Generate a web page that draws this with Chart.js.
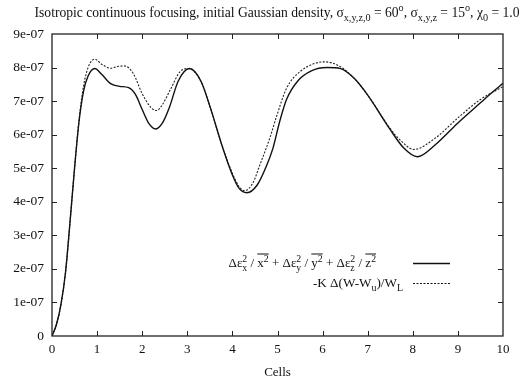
<!DOCTYPE html>
<html>
<head>
<meta charset="utf-8">
<script src="https://cdn.jsdelivr.net/npm/chart.js@4/dist/chart.umd.min.js"></script>
<style>
html,body{margin:0;padding:0;background:#fff;}
canvas{display:block;}
</style>
</head>
<body>
<canvas id="c" width="528" height="382"></canvas>
<script>
// ---- data ----
const solidX = [0,0.1,0.2,0.3,0.4,0.5,0.6,0.7,0.8,0.95,1.1,1.3,1.5,1.7,1.85,2.0,2.15,2.3,2.45,2.6,2.8,3.05,3.3,3.5,3.8,4.0,4.15,4.32,4.55,4.75,4.9,5.05,5.2,5.45,5.75,6.1,6.4,6.7,7.0,7.5,7.8,8.1,8.5,9.0,9.5,9.75,10];
const solidY = [0,0.35e-7,0.95e-7,1.9e-7,3.4e-7,5.0e-7,6.4e-7,7.3e-7,7.75e-7,7.97e-7,7.8e-7,7.52e-7,7.44e-7,7.4e-7,7.2e-7,6.75e-7,6.33e-7,6.17e-7,6.35e-7,6.8e-7,7.6e-7,7.97e-7,7.6e-7,6.85e-7,5.55e-7,4.8e-7,4.4e-7,4.27e-7,4.5e-7,5.05e-7,5.6e-7,6.4e-7,7.05e-7,7.6e-7,7.9e-7,8.0e-7,7.97e-7,7.68e-7,7.18e-7,6.15e-7,5.6e-7,5.34e-7,5.7e-7,6.35e-7,6.95e-7,7.25e-7,7.53e-7];
const dashedX = [0,0.1,0.2,0.3,0.4,0.5,0.6,0.7,0.8,0.95,1.1,1.3,1.45,1.6,1.8,2.0,2.2,2.32,2.45,2.62,2.84,3.02,3.3,3.5,3.8,4.0,4.15,4.27,4.45,4.61,4.83,4.98,5.2,5.5,6.05,6.4,6.7,7.0,7.5,7.75,8.02,8.5,9.0,9.5,9.75,10];
const dashedY = [0,0.35e-7,0.95e-7,1.9e-7,3.4e-7,5.0e-7,6.45e-7,7.45e-7,8.0e-7,8.25e-7,8.1e-7,7.98e-7,8.03e-7,8.05e-7,7.83e-7,7.22e-7,6.8e-7,6.72e-7,6.9e-7,7.33e-7,7.88e-7,7.97e-7,7.6e-7,6.85e-7,5.55e-7,4.85e-7,4.45e-7,4.33e-7,4.55e-7,5.1e-7,5.9e-7,6.55e-7,7.38e-7,7.88e-7,8.17e-7,8.02e-7,7.68e-7,7.18e-7,6.18e-7,5.8e-7,5.56e-7,5.9e-7,6.5e-7,7.05e-7,7.25e-7,7.43e-7];
const xTickLabels = ['0','1','2','3','4','5','6','7','8','9','10'];
const yTickLabels = ['0','1e-07','2e-07','3e-07','4e-07','5e-07','6e-07','7e-07','8e-07','9e-07'];

const SERIF = '"Liberation Serif", "DejaVu Serif", serif';

// rich text: parts {t, sub, sup, over}
function measureRich(ctx, parts, size){
  let w = 0;
  for (const p of parts){
    ctx.font = size + 'px ' + SERIF;
    w += ctx.measureText(p.t).width;
    ctx.font = (size*0.75) + 'px ' + SERIF;
    const sw = Math.max(p.sub ? ctx.measureText(p.sub).width : 0, p.sup ? ctx.measureText(p.sup).width : 0);
    w += sw;
  }
  return w;
}
function drawRich(ctx, parts, x, y, size, align){
  const total = measureRich(ctx, parts, size);
  let cx = align === 'right' ? x - total : (align === 'center' ? x - total/2 : x);
  ctx.textBaseline = 'alphabetic';
  ctx.textAlign = 'left';
  for (const p of parts){
    ctx.font = size + 'px ' + SERIF;
    const bw = ctx.measureText(p.t).width;
    ctx.fillText(p.t, cx, y);
    const startX = cx;
    cx += bw;
    ctx.font = (size*0.75) + 'px ' + SERIF;
    let sw = 0;
    if (p.sup){ ctx.fillText(p.sup, cx, y - size*0.42); sw = Math.max(sw, ctx.measureText(p.sup).width); }
    if (p.sub){ ctx.fillText(p.sub, cx, y + size*0.3); sw = Math.max(sw, ctx.measureText(p.sub).width); }
    if (p.over){
      ctx.save(); ctx.lineWidth = 1; ctx.strokeStyle = ctx.fillStyle;
      ctx.beginPath(); ctx.moveTo(startX, y - size*1.0); ctx.lineTo(cx + sw, y - size*1.0); ctx.stroke(); ctx.restore();
    }
    cx += sw;
  }
}

const decor = {
  id: 'decor',
  afterDraw(chart){
    const ctx = chart.ctx;
    const a = chart.chartArea;
    const xs = chart.scales.x, ys = chart.scales.y;
    ctx.save();
    ctx.strokeStyle = '#222';
    ctx.lineWidth = 1.3;
    ctx.strokeRect(a.left, a.top, a.right - a.left, a.bottom - a.top);
    ctx.lineWidth = 1;
    ctx.beginPath();
    for (let i = 1; i < xTickLabels.length - 1; i++){
      const px = Math.round(xs.getPixelForValue(i)) + 0.5;
      ctx.moveTo(px, a.bottom); ctx.lineTo(px, a.bottom - 5);
      ctx.moveTo(px, a.top); ctx.lineTo(px, a.top + 5);
    }
    for (let i = 1; i < yTickLabels.length - 1; i++){
      const py = Math.round(ys.getPixelForValue(i*1e-7)) + 0.5;
      ctx.moveTo(a.left, py); ctx.lineTo(a.left + 5, py);
      ctx.moveTo(a.right, py); ctx.lineTo(a.right - 5, py);
    }
    ctx.stroke();
    // title
    ctx.fillStyle = '#111';
    drawRich(ctx, [
      {t:'Isotropic continuous focusing, initial Gaussian density, σ', sub:'x,y,z,0'},
      {t:' = 60', sup:'o'},
      {t:', σ', sub:'x,y,z'},
      {t:' = 15', sup:'o'},
      {t:', χ', sub:'0'},
      {t:' = 1.0'}
    ], 277, 17, 13.6, 'center');
    // legend
    drawRich(ctx, [
      {t:'Δε', sup:'2', sub:'x'}, {t:' / '}, {t:'x', sup:'2', over:true},
      {t:' + Δε', sup:'2', sub:'y'}, {t:' / '}, {t:'y', sup:'2', over:true},
      {t:' + Δε', sup:'2', sub:'z'}, {t:' / '}, {t:'z', sup:'2', over:true}
    ], 376, 267, 13, 'right');
    drawRich(ctx, [
      {t:'-K Δ(W-W', sub:'u'}, {t:')/W', sub:'L'}
    ], 403, 287, 13.2, 'right');
    ctx.strokeStyle = '#111';
    ctx.lineWidth = 1.3;
    ctx.beginPath(); ctx.moveTo(413, 263.5); ctx.lineTo(450, 263.5); ctx.stroke();
    ctx.lineWidth = 1;
    ctx.setLineDash([2,1.5]);
    ctx.beginPath(); ctx.moveTo(413, 283.5); ctx.lineTo(450, 283.5); ctx.stroke();
    ctx.restore();
  }
};

new Chart(document.getElementById('c'), {
  type: 'line',
  data: {
    datasets: [
      {
        label: 'solid',
        data: solidX.map((x, i) => ({x: x, y: solidY[i]})),
        borderColor: '#111',
        borderWidth: 1.4,
        pointRadius: 0,
        cubicInterpolationMode: 'monotone',
        fill: false
      },
      {
        label: 'dashed',
        data: dashedX.map((x, i) => ({x: x, y: dashedY[i]})),
        borderColor: '#222',
        borderWidth: 1.1,
        borderDash: [2, 1.5],
        pointRadius: 0,
        cubicInterpolationMode: 'monotone',
        fill: false
      }
    ]
  },
  options: {
    responsive: false,
    devicePixelRatio: 1,
    animation: false,
    layout: { padding: { left: 0, right: 25, top: 34, bottom: 0 } },
    plugins: { legend: { display: false }, tooltip: { enabled: false }, title: { display: false } },
    scales: {
      x: {
        type: 'linear', min: 0, max: 10,
        afterFit(s){ s.height = 46; },
        afterBuildTicks(s){ s.ticks = xTickLabels.map((l, i) => ({value: i})); },
        ticks: {
          callback: (v, i) => xTickLabels[i],
          color: '#111', padding: 6, maxRotation: 0,
          font: { family: SERIF, size: 13 }
        },
        grid: { display: false, drawTicks: false },
        border: { display: false },
        title: { display: true, text: 'Cells', color: '#111', font: { family: SERIF, size: 13 }, padding: { top: 2, bottom: 2 } }
      },
      y: {
        type: 'linear', min: 0, max: 9e-7,
        afterFit(s){ s.width = 52; },
        afterBuildTicks(s){ s.ticks = yTickLabels.map((l, i) => ({value: i * 1e-7})); },
        ticks: {
          callback: (v, i) => yTickLabels[i],
          color: '#111', padding: 8,
          font: { family: SERIF, size: 13.5 }
        },
        grid: { display: false, drawTicks: false },
        border: { display: false }
      }
    }
  },
  plugins: [decor]
});
</script>
</body>
</html>
